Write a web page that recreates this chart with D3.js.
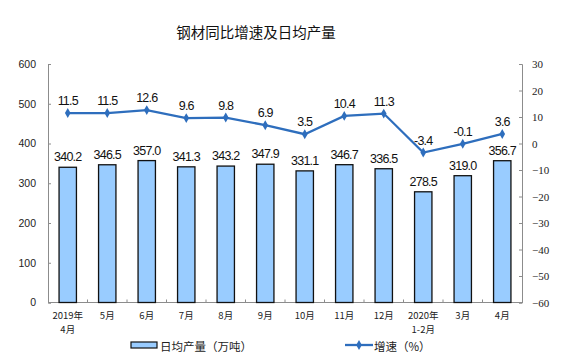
<!DOCTYPE html>
<html><head><meta charset="utf-8">
<script src="https://cdn.jsdelivr.net/npm/d3@7/dist/d3.min.js"></script>
<style>body{margin:0;background:#fff}</style>
</head><body>
<svg id="c" width="575" height="362"></svg>
<script>
const categories = [["2019年","4月"],["5月"],["6月"],["7月"],["8月"],["9月"],["10月"],["11月"],["12月"],["2020年","1-2月"],["3月"],["4月"]];
const output = [340.2,346.5,357.0,341.3,343.2,347.9,331.1,346.7,336.5,278.5,319.0,356.7];
const growth = [11.5,11.5,12.6,9.6,9.8,6.9,3.5,10.4,11.3,-3.4,-0.1,3.6];
const leftTicks = [0,100,200,300,400,500,600];
const rightTicks = [-60,-50,-40,-30,-20,-10,0,10,20,30];
const title = "钢材同比增速及日均产量";
const legendBar = "日均产量（万吨）";
const legendLine = "增速（%）";

const svg = d3.select("#c");
const L = 48, R = 522, T = 64, B = 302.5;
const x = d3.scaleBand().domain(d3.range(categories.length)).range([L, R]).paddingInner(0.56).paddingOuter(0.28);
const xb = d3.scaleBand().domain(d3.range(categories.length)).range([L, R]);
const yL = d3.scaleLinear().domain([0,600]).range([B, T]);
const yR = d3.scaleLinear().domain([-60,30]).range([B, T]);
const axisCol = "#8c8c8c";

svg.append("text").attr("x",256).attr("y",38).attr("text-anchor","middle")
  .attr("font-family","'Noto Sans CJK SC'").attr("font-size",14.5).attr("fill","#111").text(title);

// left axis
const gl = svg.append("g").attr("transform",`translate(${L},0)`)
  .call(d3.axisLeft(yL).tickValues(leftTicks).tickSize(-3).tickPadding(12));
gl.select(".domain").attr("stroke",axisCol);
gl.selectAll(".tick line").attr("stroke",axisCol);
gl.selectAll("text").attr("font-family","'Liberation Sans',Arial").attr("font-size",10.5).attr("fill","#222");

// right axis
const gr = svg.append("g").attr("transform",`translate(${R},0)`)
  .call(d3.axisRight(yR).tickValues(rightTicks).tickSize(-3).tickPadding(10));
gr.select(".domain").attr("stroke",axisCol);
gr.selectAll(".tick line").attr("stroke",axisCol);
gr.selectAll("text").attr("font-family","'Liberation Serif','Times New Roman'").attr("font-size",11).attr("fill","#222");

// x axis
svg.append("line").attr("x1",L).attr("x2",R).attr("y1",B).attr("y2",B).attr("stroke",axisCol);
svg.selectAll(".xt").data(d3.range(1,categories.length)).join("line")
  .attr("x1",d=>xb(d)).attr("x2",d=>xb(d)).attr("y1",B).attr("y2",B-3).attr("stroke",axisCol);
categories.forEach((d,i)=>{
  d.forEach((s,j)=>svg.append("text").attr("x",xb(i)+xb.bandwidth()/2).attr("y",B+16+j*14)
    .attr("text-anchor","middle").attr("font-family","'Noto Sans CJK SC'").attr("font-size",9.5)
    .attr("fill","#222").text(s));
});

// bars
svg.selectAll(".bar").data(output).join("rect")
  .attr("x",(d,i)=>x(i)).attr("width",x.bandwidth())
  .attr("y",d=>yL(d)).attr("height",d=>B-yL(d))
  .attr("fill","#99ccff").attr("stroke","#111").attr("stroke-width",1.3);
svg.selectAll(".bl").data(output).join("text")
  .attr("x",(d,i)=>xb(i)+xb.bandwidth()/2).attr("y",d=>yL(d)-6)
  .attr("text-anchor","middle").attr("font-family","'Liberation Sans',Arial").attr("font-size",12.5)
  .attr("letter-spacing",-0.8).attr("fill","#111").text(d=>d.toFixed(1));

// line
const lineCol = "#2e6ebd";
const line = d3.line().x((d,i)=>xb(i)+xb.bandwidth()/2).y(d=>yR(d));
svg.append("path").datum(growth).attr("d",line).attr("fill","none").attr("stroke",lineCol).attr("stroke-width",2.3);
const diamond = d3.symbol().type(d3.symbolDiamond).size(28);
svg.selectAll(".pt").data(growth).join("path").attr("d",diamond)
  .attr("transform",(d,i)=>`translate(${xb(i)+xb.bandwidth()/2},${yR(d)})`).attr("fill",lineCol);
svg.selectAll(".ll").data(growth).join("text")
  .attr("x",(d,i)=>xb(i)+xb.bandwidth()/2).attr("y",d=>yR(d)-8)
  .attr("text-anchor","middle").attr("font-family","'Liberation Sans',Arial").attr("font-size",12.5)
  .attr("letter-spacing",-0.8).attr("fill","#111").text(d=>d.toFixed(1));

// legend
svg.append("rect").attr("x",131).attr("y",342).attr("width",26).attr("height",6)
  .attr("fill","#99ccff").attr("stroke","#111").attr("stroke-width",1.2);
svg.append("text").attr("x",160).attr("y",350.5).attr("font-family","'Noto Sans CJK SC'").attr("font-size",11.5).attr("fill","#222").text(legendBar);
svg.append("line").attr("x1",345).attr("x2",373).attr("y1",345).attr("y2",345).attr("stroke",lineCol).attr("stroke-width",2.3);
svg.append("path").attr("d",diamond).attr("transform","translate(359,345)").attr("fill",lineCol);
svg.append("text").attr("x",374).attr("y",350.5).attr("font-family","'Noto Sans CJK SC'").attr("font-size",11.5).attr("fill","#222").text(legendLine);
</script>
</body></html>
